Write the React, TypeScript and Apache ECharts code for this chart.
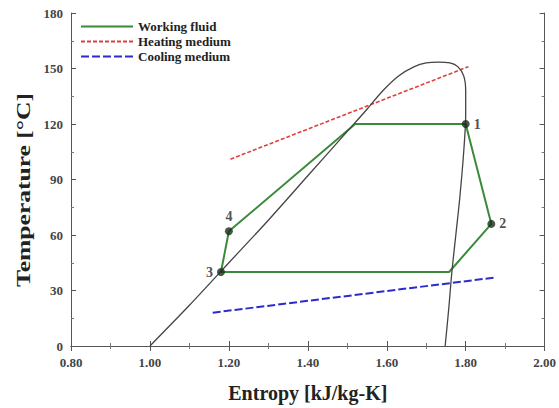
import React, { useEffect, useRef } from "react";
import * as echarts from "echarts";

const xTicks = [0.8, 1.0, 1.2, 1.4, 1.6, 1.8, 2.0];
const yTicks = [0, 30, 60, 90, 120, 150, 180];

const domeCurve: [number, number][] = [
  [1.0, 0], [1.1, 22], [1.2, 45], [1.3, 68], [1.4, 92], [1.5, 116], [1.55, 128],
  [1.59, 138], [1.63, 146], [1.67, 151], [1.7, 153], [1.73, 153.5], [1.76, 153],
  [1.78, 151], [1.795, 146], [1.8, 138], [1.8, 125], [1.795, 105], [1.785, 80],
  [1.775, 60], [1.765, 40], [1.757, 20], [1.748, 0],
];

const workingFluid: [number, number][] = [
  [1.2, 62], [1.52, 120], [1.8, 120], [1.865, 66], [1.758, 40], [1.18, 40], [1.2, 62],
];

const heatingMedium: [number, number][] = [[1.204, 101], [1.807, 151]];
const coolingMedium: [number, number][] = [[1.159, 18], [1.874, 37]];

const statePoints: { name: string; value: [number, number]; pos: string }[] = [
  { name: "1", value: [1.8, 120], pos: "right" },
  { name: "2", value: [1.865, 66], pos: "right" },
  { name: "3", value: [1.18, 40], pos: "left" },
  { name: "4", value: [1.2, 62], pos: "top" },
];

const FONT = "'Liberation Serif', 'DejaVu Serif', serif";

export default function App() {
  const ref = useRef<HTMLDivElement>(null);
  useEffect(() => {
    if (!ref.current) return;
    const chart = echarts.init(ref.current, undefined, { renderer: "svg" });
    const axisCommon = {
      type: "value" as const,
      axisLine: { show: true, lineStyle: { color: "#555", width: 1 } },
      axisTick: { show: true, inside: true, length: 5, lineStyle: { color: "#555" } },
      minorTick: { show: true, splitNumber: 2, length: 3, lineStyle: { color: "#777" } },
      splitLine: { show: false },
    };
    chart.setOption({
      animation: false,
      backgroundColor: "#fff",
      grid: { left: 71, right: 12, top: 13, bottom: 61 },
      legend: {
        left: 75,
        top: 15,
        orient: "vertical",
        itemWidth: 52,
        itemHeight: 10,
        itemGap: 2,
        data: ["Working fluid", "Heating medium", "Cooling medium"],
        itemStyle: { opacity: 0 },
        textStyle: { fontFamily: FONT, fontWeight: "bold", fontSize: 13, color: "#222" },
      },
      graphic: [
        {
          type: "text",
          x: 24,
          y: 190,
          rotation: Math.PI / 2,
          scaleX: 1.42,
          style: {
            text: "Temperature [°C]",
            font: `bold 18px ${FONT}`,
            fill: "#222",
            textAlign: "center",
            textVerticalAlign: "middle",
          },
        },
      ],
      xAxis: [
        {
          ...axisCommon,
          position: "bottom",
          min: 0.8,
          max: 2.0,
          interval: 0.2,
          name: "Entropy [kJ/kg-K]",
          nameLocation: "middle",
          nameGap: 37,
          nameTextStyle: { fontFamily: FONT, fontWeight: "bold", fontSize: 20, color: "#222" },
          axisLabel: {
            fontFamily: FONT,
            fontWeight: "bold",
            fontSize: 13,
            color: "#444",
            margin: 10,
            formatter: (v: number) => (xTicks.some((t) => Math.abs(t - v) < 1e-6) ? v.toFixed(2) : ""),
          },
        },
        {
          ...axisCommon,
          position: "top",
          min: 0.8,
          max: 2.0,
          interval: 0.2,
          axisLabel: { show: false },
        },
      ],
      yAxis: [
        {
          ...axisCommon,
          position: "left",
          min: 0,
          max: 180,
          interval: 30,
          axisLabel: {
            fontFamily: FONT,
            fontWeight: "bold",
            fontSize: 13,
            color: "#444",
            margin: 8,
            formatter: (v: number) => (yTicks.includes(v) ? String(v) : ""),
          },
        },
        {
          ...axisCommon,
          position: "right",
          min: 0,
          max: 180,
          interval: 30,
          axisLabel: { show: false },
        },
      ],
      series: [
        {
          name: "Dome",
          type: "line",
          data: domeCurve,
          symbol: "none",
          smooth: 0.3,
          lineStyle: { color: "#444", width: 1.3 },
          z: 3,
        },
        {
          name: "Working fluid",
          type: "line",
          data: workingFluid,
          symbol: "none",
          lineStyle: { color: "#3a8a3a", width: 2 },
          itemStyle: { color: "#3a8a3a" },
          z: 2,
        },
        {
          name: "Heating medium",
          type: "line",
          data: heatingMedium,
          symbol: "none",
          lineStyle: { color: "#e0403c", width: 1.6, type: [4, 2] },
          itemStyle: { color: "#e0403c" },
          z: 2,
        },
        {
          name: "Cooling medium",
          type: "line",
          data: coolingMedium,
          symbol: "none",
          lineStyle: { color: "#2b2bd0", width: 2, type: [8, 3] },
          itemStyle: { color: "#2b2bd0" },
          z: 2,
        },
        {
          name: "States",
          type: "scatter",
          data: statePoints.map((p) => ({
            name: p.name,
            value: p.value,
            label: { position: p.pos },
          })),
          symbolSize: 8,
          itemStyle: { color: "#1a2a1a" },
          label: {
            show: true,
            formatter: "{b}",
            fontFamily: FONT,
            fontWeight: "bold",
            fontSize: 14,
            color: "#222",
            distance: 4,
          },
          z: 5,
        },
      ],
    });
    return () => chart.dispose();
  }, []);
  return <div ref={ref} style={{ width: 559, height: 408, position: "absolute", left: 0, top: 0 }} />;
}
